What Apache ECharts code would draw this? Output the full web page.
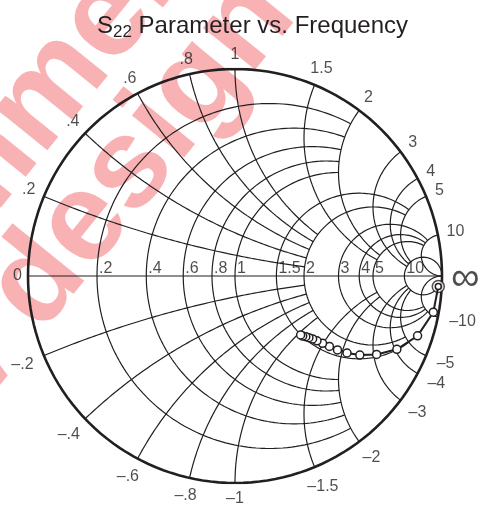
<!DOCTYPE html>
<html>
<head>
<meta charset="utf-8">
<script src="https://cdn.jsdelivr.net/npm/echarts@6/dist/echarts.min.js"></script>
<style>html,body{margin:0;padding:0;background:#fff}#chart{width:480px;height:508px}</style>
</head>
<body>
<div id="chart"></div>
<script>
// grid of the Smith chart: constant resistance circles and reactance arcs
var rValues = [0.2, 0.4, 0.6, 0.8, 1, 1.5, 2, 3, 4, 5, 10];
var xValues = [0.2, 0.4, 0.6, 0.8, 1, 1.5, 2, 3, 4, 5, 10];
// each r circle stops at this |x|, each x arc stops at this r
var rStopAtX = [2, 2, 2, 2, 2, 5, 5, 10, 10, 10, Infinity];
var xStopAtR = [2, 2, 2, 2, 2, 5, 5, 10, 10, 10, Infinity];

var rLabels = ['.2', '.4', '.6', '.8', '1', '1.5', '2', '3', '4', '5', '10'];
var xLabelsPos = ['.2', '.4', '.6', '.8', '1', '1.5', '2', '3', '4', '5', '10'];
var xLabelsNeg = ['\u2013.2', '\u2013.4', '\u2013.6', '\u2013.8', '\u20131', '\u20131.5', '\u20132', '\u20133', '\u20134', '\u20135', '\u201310'];

var s22Re = [0.982, 0.958, 0.882, 0.782, 0.684, 0.603, 0.541, 0.495, 0.456, 0.423, 0.396, 0.375, 0.357, 0.342, 0.327, 0.317];
var s22Im = [-0.051, -0.175, -0.289, -0.354, -0.379, -0.382, -0.372, -0.357, -0.340, -0.325, -0.313, -0.304, -0.298, -0.293, -0.290, -0.285];

var INK = '#231f20';
var FONT = '"Liberation Sans", Arial, sans-serif';
var N = 160;

// z = r + jx  ->  reflection coefficient
function gamma(r, x) {
  var d = (r + 1) * (r + 1) + x * x;
  return [(r * r + x * x - 1) / d, 2 * x / d];
}

function rCircle(r, X) {
  var c = r / (1 + r), rho = 1 / (1 + r), t0 = 0;
  if (isFinite(X)) {
    var g = gamma(r, X);
    t0 = Math.atan2(g[1], g[0] - c);
  }
  var pts = [];
  for (var i = 0; i <= N; i++) {
    var t = t0 + (2 * Math.PI - 2 * t0) * i / N;
    pts.push([c + rho * Math.cos(t), rho * Math.sin(t)]);
  }
  return pts;
}

function angleOn(p, cy) {
  var a = Math.atan2(p[1] - cy, p[0] - 1);
  return a < 0 ? a + 2 * Math.PI : a;
}

function xArc(x, R) {
  var ax = Math.abs(x), s = x < 0 ? -1 : 1, rho = 1 / ax;
  var a0 = angleOn(gamma(0, ax), rho);
  var a1 = isFinite(R) ? angleOn(gamma(R, ax), rho) : 1.5 * Math.PI;
  var pts = [];
  for (var i = 0; i <= N; i++) {
    var a = a0 + (a1 - a0) * i / N;
    pts.push([1 + rho * Math.cos(a), s * (rho + rho * Math.sin(a))]);
  }
  return pts;
}

var series = [];
function addCurve(pts, w) {
  series.push({
    type: 'line', data: pts, symbol: 'none', silent: true, z: 2,
    lineStyle: {color: INK, width: w}
  });
}

rValues.forEach(function (r, i) {
  addCurve(rCircle(r, rStopAtX[i]), 1.2);
});
xValues.forEach(function (x, i) {
  addCurve(xArc(x, xStopAtR[i]), 1.2);
  addCurve(xArc(-x, xStopAtR[i]), 1.2);
});
addCurve([[-1, 0], [1, 0]], 1.2);
addCurve(rCircle(0, Infinity), 2.6);

// labels round the rim
function textWidth(s) {
  var w = 0;
  for (var i = 0; i < s.length; i++) w += s[i] === '.' ? 4.5 : 8.9;
  return w;
}
function rimLabel(p, text, gap, hh) {
  var len = Math.sqrt(p[0] * p[0] + p[1] * p[1]);
  var du = p[0] / len, dv = -p[1] / len;
  var d = gap + Math.abs(du) * textWidth(text) / 2 + Math.abs(dv) * hh;
  return {
    value: p, name: text,
    label: {offset: [du * d, dv * d]}
  };
}
var rimData = [];
xValues.forEach(function (x, i) {
  rimData.push(rimLabel(gamma(0, x), xLabelsPos[i], 8, 6));
  rimData.push(rimLabel(gamma(0, -x), xLabelsNeg[i], 11, 5));
});
rimData.push(rimLabel([-1, 0], '0', 6, 6));

var axisData = rValues.map(function (r, i) {
  return {value: gamma(r, 0), name: rLabels[i]};
});

series.push({
  type: 'scatter', data: rimData, symbolSize: 1, silent: true, z: 3,
  itemStyle: {color: 'transparent'},
  label: {show: true, position: 'inside', formatter: '{b}', color: INK,
    fontFamily: FONT, fontSize: 16, align: 'center', verticalAlign: 'middle'}
});
series.push({
  type: 'scatter', data: axisData, symbolSize: 1, silent: true, z: 3,
  itemStyle: {color: 'transparent'},
  label: {show: true, position: 'inside', formatter: '{b}', color: INK,
    fontFamily: FONT, fontSize: 16, align: 'left', verticalAlign: 'bottom', offset: [2, 1]}
});
series.push({
  type: 'scatter', data: [{value: [1, 0], name: '\u221e'}], symbolSize: 1, silent: true, z: 3,
  itemStyle: {color: 'transparent'},
  label: {show: true, position: 'inside', formatter: '{b}', color: INK,
    fontFamily: FONT, fontSize: 40, align: 'left', verticalAlign: 'middle', offset: [9, 3]}
});

// measured S22
var s22 = s22Re.map(function (u, i) { return [u, s22Im[i]]; });
series.push({
  type: 'line', data: s22, symbol: 'circle', z: 5, silent: true,
  symbolSize: function (v, p) { return p.dataIndex === 0 ? 6 : 8; },
  lineStyle: {color: INK, width: 2},
  itemStyle: {color: '#fff', borderColor: INK, borderWidth: 1.5}
});
series.push({
  type: 'scatter', data: [s22[0]], symbol: 'circle', symbolSize: 12, z: 4, silent: true,
  itemStyle: {color: '#fff', borderColor: INK, borderWidth: 1.5}
});

var WM = 'bold 127px "Liberation Sans", Arial, sans-serif';
var WM_FILL = 'rgba(237,28,36,0.34)';

var chart = echarts.init(document.getElementById('chart'));
chart.setOption({
  animation: false,
  backgroundColor: '#fff',
  title: {
    left: 92, top: 6,
    text: '{a|S}{b|22}{a| Parameter vs. Frequency}',
    textStyle: {
      fontWeight: 'normal',
      rich: {
        a: {fontFamily: FONT, fontSize: 24, fontWeight: 'normal', color: INK, lineHeight: 30},
        b: {fontFamily: FONT, fontSize: 17, fontWeight: 'normal', color: INK, lineHeight: 18, verticalAlign: 'bottom'}
      }
    }
  },
  grid: {left: 28, top: 69, width: 414, height: 414},
  xAxis: {type: 'value', min: -1, max: 1, show: false},
  yAxis: {type: 'value', min: -1, max: 1, show: false},
  graphic: [{
    type: 'group', x: 48, y: 340, rotation: 51 * Math.PI / 180, z: 100, silent: true,
    children: [{
      type: 'text', x: 409, y: -44,
      style: {text: 'new design', align: 'right', verticalAlign: 'middle', font: WM, fill: WM_FILL}
    }, {
      type: 'text', x: -490, y: -155,
      style: {text: 'Not recommended for', align: 'left', verticalAlign: 'middle', font: WM, fill: WM_FILL}
    }]
  }],
  series: series
});
</script>
</body>
</html>
